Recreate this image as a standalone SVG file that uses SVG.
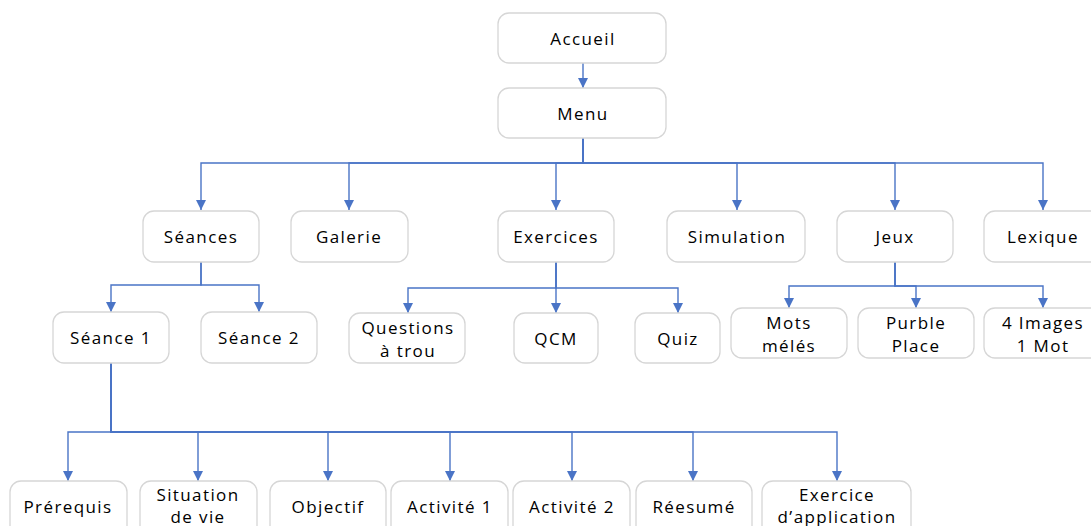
<svg xmlns="http://www.w3.org/2000/svg" width="1091" height="526" viewBox="0 0 1091 526">
  <style>
    .box { fill: #ffffff; stroke: #d6d6d6; stroke-width: 1.3; }
    .lbl { font-family: "Open Sans", "DejaVu Sans", sans-serif; font-size: 17px; font-weight: 500; letter-spacing: 1.4px; fill: #000000; text-anchor: middle; dominant-baseline: central; }
    .edge { fill: none; stroke: #4a74c6; stroke-width: 1.4; marker-end: url(#arrow); }
  </style>
  <defs>
    <marker id="arrow" viewBox="0 0 10 10" refX="10" refY="5" markerWidth="10" markerHeight="10" markerUnits="userSpaceOnUse" orient="auto">
      <path d="M0,0 L10,5 L0,10 z" fill="#4a74c6"/>
    </marker>
  </defs>
  <rect width="1091" height="526" fill="#ffffff"/>

  <!-- connectors -->
  <g id="connectors">
    <path class="edge" d="M583,63 V88"/>
    <path class="edge" d="M583,138 V163 H201 V210"/>
    <path class="edge" d="M583,138 V163 H349 V210"/>
    <path class="edge" d="M583,138 V163 H556 V210"/>
    <path class="edge" d="M583,138 V163 H737 V210"/>
    <path class="edge" d="M583,138 V163 H895 V210"/>
    <path class="edge" d="M583,138 V163 H1043 V210"/>

    <path class="edge" d="M201,262 V285 H111 V312"/>
    <path class="edge" d="M201,262 V285 H259 V312"/>

    <path class="edge" d="M556,262 V288 H408 V313"/>
    <path class="edge" d="M556,262 V313"/>
    <path class="edge" d="M556,262 V288 H678 V313"/>

    <path class="edge" d="M895,262 V286 H789 V308"/>
    <path class="edge" d="M895,262 V286 H916 V308"/>
    <path class="edge" d="M895,262 V286 H1043 V308"/>

    <path class="edge" d="M111,363 V432 H68 V481"/>
    <path class="edge" d="M111,363 V432 H198 V481"/>
    <path class="edge" d="M111,363 V432 H328 V481"/>
    <path class="edge" d="M111,363 V432 H450 V481"/>
    <path class="edge" d="M111,363 V432 H572 V481"/>
    <path class="edge" d="M111,363 V432 H693 V481"/>
    <path class="edge" d="M111,363 V432 H837 V481"/>
  </g>

  <!-- top -->
  <g id="accueil"><rect class="box" x="498" y="13" width="168" height="50" rx="11"/><text class="lbl" x="583" y="38">Accueil</text></g>
  <g id="menu"><rect class="box" x="498" y="88" width="168" height="50" rx="11"/><text class="lbl" x="583" y="113">Menu</text></g>

  <!-- menu entries -->
  <g id="seances"><rect class="box" x="143" y="211" width="116" height="51" rx="11"/><text class="lbl" x="201" y="236">Séances</text></g>
  <g id="galerie"><rect class="box" x="291" y="211" width="117" height="51" rx="11"/><text class="lbl" x="349" y="236">Galerie</text></g>
  <g id="exercices"><rect class="box" x="498" y="211" width="116" height="51" rx="11"/><text class="lbl" x="556" y="236">Exercices</text></g>
  <g id="simulation"><rect class="box" x="667" y="211" width="138" height="51" rx="11"/><text class="lbl" x="737" y="236">Simulation</text></g>
  <g id="jeux"><rect class="box" x="837" y="211" width="116" height="51" rx="11"/><text class="lbl" x="895" y="236">Jeux</text></g>
  <g id="lexique"><rect class="box" x="984" y="211" width="120" height="51" rx="11"/><text class="lbl" x="1043" y="236">Lexique</text></g>

  <!-- sessions -->
  <g id="seance1"><rect class="box" x="53" y="312" width="116" height="51" rx="11"/><text class="lbl" x="111" y="337">Séance 1</text></g>
  <g id="seance2"><rect class="box" x="201" y="312" width="116" height="51" rx="11"/><text class="lbl" x="259" y="337">Séance 2</text></g>

  <!-- exercises -->
  <g id="questions"><rect class="box" x="349" y="313" width="116" height="50" rx="11"/><text class="lbl" x="408" y="327">Questions</text><text class="lbl" x="408" y="350">à trou</text></g>
  <g id="qcm"><rect class="box" x="514" y="313" width="84" height="50" rx="11"/><text class="lbl" x="556" y="338">QCM</text></g>
  <g id="quiz"><rect class="box" x="635" y="313" width="85" height="50" rx="11"/><text class="lbl" x="678" y="338">Quiz</text></g>

  <!-- games -->
  <g id="mots"><rect class="box" x="731" y="308" width="116" height="50" rx="11"/><text class="lbl" x="789" y="322">Mots</text><text class="lbl" x="789" y="345">mélés</text></g>
  <g id="purble"><rect class="box" x="858" y="308" width="116" height="50" rx="11"/><text class="lbl" x="916" y="322">Purble</text><text class="lbl" x="916" y="345">Place</text></g>
  <g id="images"><rect class="box" x="984" y="308" width="120" height="50" rx="11"/><text class="lbl" x="1043" y="322">4 Images</text><text class="lbl" x="1043" y="345">1 Mot</text></g>

  <!-- session parts -->
  <g id="prerequis"><rect class="box" x="10" y="481" width="117" height="60" rx="11"/><text class="lbl" x="68" y="506">Prérequis</text></g>
  <g id="situation"><rect class="box" x="140" y="481" width="117" height="60" rx="11"/><text class="lbl" x="198" y="494">Situation</text><text class="lbl" x="198" y="516">de vie</text></g>
  <g id="objectif"><rect class="box" x="270" y="481" width="116" height="60" rx="11"/><text class="lbl" x="328" y="506">Objectif</text></g>
  <g id="activite1"><rect class="box" x="391" y="481" width="117" height="60" rx="11"/><text class="lbl" x="450" y="506">Activité 1</text></g>
  <g id="activite2"><rect class="box" x="513" y="481" width="117" height="60" rx="11"/><text class="lbl" x="572" y="506">Activité 2</text></g>
  <g id="resume"><rect class="box" x="636" y="481" width="116" height="60" rx="11"/><text class="lbl" x="694" y="506">Réesumé</text></g>
  <g id="exercice-application"><rect class="box" x="762" y="481" width="149" height="60" rx="11"/><text class="lbl" x="837" y="494">Exercice</text><text class="lbl" x="837" y="516">d’application</text></g>
</svg>
